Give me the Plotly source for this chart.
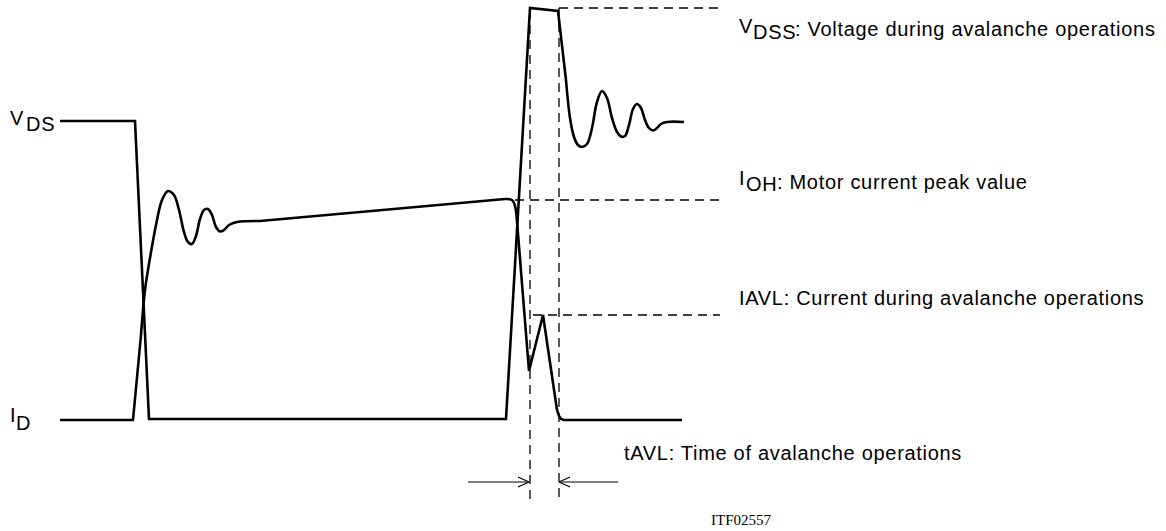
import plotly.graph_objects as go

# ---------------- data (time axis = horizontal units, level axis = vertical units) -------------
# V_DS waveform: straight edges, then ringing after avalanche
vds_edge_t = [60, 135, 149, 506, 530, 558, 566]
vds_edge_v = [121, 121, 419, 419, 8, 11, 80]
vds_ring_t = [566, 570, 574, 578, 582, 587, 592, 597, 602, 607, 612, 617, 621, 625, 629, 633, 637, 641, 645, 649, 653, 657, 661, 667, 684]
vds_ring_v = [80, 118, 137, 145, 147, 144, 128, 102, 91, 98, 118, 132, 136.5, 136, 125, 109, 104, 108, 120, 128, 130.5, 128, 124, 122, 122]

# I_D waveform: rise with ringing, ramp, avalanche current, fall
id_rise_t = [60, 133, 141]
id_rise_v = [420, 420, 335]
id_ring_t = [141, 145, 150, 156, 162, 168, 174, 179, 184, 188, 192, 196, 200, 204, 208, 212, 216, 220, 224, 229, 237, 260]
id_ring_v = [335, 290, 258, 225, 200, 191, 195, 210, 232, 242, 244, 236, 219, 210, 209, 215, 227, 231.5, 230, 225, 222, 221]
id_ramp_t = [260, 505]
id_ramp_v = [221, 199]
id_knee_t = [505, 510, 513, 515, 516.5]
id_knee_v = [199, 199.3, 201, 206, 215]
id_aval_t = [516.5, 529, 543, 557]
id_aval_v = [215, 371, 315, 410]
id_tail_t = [557, 559, 561, 564, 682]
id_tail_v = [410, 416, 419, 420, 420]

# reference (dashed) levels and instants
ref_levels = [8, 200, 315]
ref_level_start = [559, 515, 533]
ref_level_end = 720
ref_times = [530, 559]
ref_time_top = [10, 8]
ref_time_bottom = [500, 497]

# tAVL dimension arrows
arrow_level = 482
arrow_left = [468, 529]
arrow_right = [618, 559]

FONT = "Liberation Sans"
LS = "letter-spacing:0.7px"

fig = go.Figure()

def seg(t, v, shape="linear"):
    fig.add_trace(go.Scatter(x=t, y=v, mode="lines", line=dict(color="#000", width=2.6, shape=shape,
                                                               smoothing=1.0 if shape == "spline" else None),
                             hoverinfo="skip", showlegend=False))

seg(vds_edge_t, vds_edge_v)
seg(vds_ring_t, vds_ring_v, "spline")
seg(id_rise_t, id_rise_v)
seg(id_ring_t, id_ring_v, "spline")
seg(id_ramp_t, id_ramp_v)
seg(id_knee_t, id_knee_v, "spline")
seg(id_aval_t, id_aval_v)
seg(id_tail_t, id_tail_v)

# dashed guides
for lv, x0 in zip(ref_levels, ref_level_start):
    fig.add_shape(type="line", x0=x0, x1=ref_level_end, y0=lv, y1=lv, xref="x", yref="y",
                  line=dict(color="#000", width=1.3, dash="9px,6px"))
for tt, y0, y1 in zip(ref_times, ref_time_top, ref_time_bottom):
    fig.add_shape(type="line", x0=tt, x1=tt, y0=y0, y1=y1, xref="x", yref="y",
                  line=dict(color="#000", width=1.3, dash="9px,6px"))

# arrows (open heads)
hx, hy = 11, 5
ax, ay = [], []
for (start, tip) in (arrow_left, arrow_right):
    d = 1 if tip > start else -1
    ax += [start, tip, None, tip - d * hx, tip, tip - d * hx, None]
    ay += [arrow_level, arrow_level, None, arrow_level - hy, arrow_level, arrow_level + hy, None]
fig.add_trace(go.Scatter(x=ax, y=ay, mode="lines", line=dict(color="#000", width=1.2),
                         hoverinfo="skip", showlegend=False))

def label(x, y, text, size=20, family=FONT):
    fig.add_annotation(x=x, y=y, xref="x", yref="y", text=text, showarrow=False,
                       xanchor="left", yanchor="middle", font=dict(family=family, size=size, color="#000"))

def sp(t):
    return f"<span style='{LS}'>{t}</span>"

# left signal names
label(8, 118, "V")
label(24, 124, sp("DS"))
label(8, 415, "I")
label(14, 423, "D")

# right descriptions
label(737, 26, "V")
label(751, 32, sp("DSS"))
label(793, 29, sp(": Voltage during avalanche operations"))

label(737, 178, "I")
label(744, 184, sp("OH"))
label(775, 182, sp(": Motor current peak value"))

label(737, 298, sp("IAVL: Current during avalanche operations"))
label(622, 453, sp("tAVL: Time of avalanche operations"))

label(709, 520, "ITF02557", size=15, family="Liberation Serif")

fig.update_layout(
    width=1166, height=531, margin=dict(l=0, r=0, t=0, b=0),
    paper_bgcolor="white", plot_bgcolor="white",
    xaxis=dict(range=[0, 1166], visible=False, fixedrange=True),
    yaxis=dict(range=[531, 0], visible=False, fixedrange=True),
    showlegend=False,
)

fig.write_html("out.html", config={"displayModeBar": False},
               post_script="document.body.style.margin='0px';document.body.style.overflow='hidden';")
